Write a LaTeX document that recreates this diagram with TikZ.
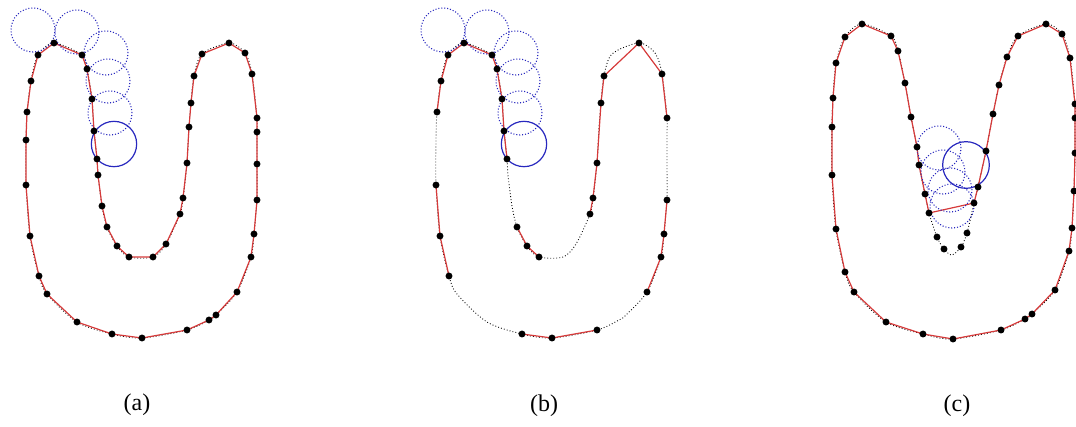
\documentclass[tikz,border=0pt]{standalone}
\usepackage{fontspec}
\setmainfont{Liberation Serif}
\definecolor{chordred}{RGB}{214,58,58}
\definecolor{probeblue}{RGB}{40,40,190}

% sample points of the U contour (pixel units, y down)
\def\ulist{38/55,54/43,82/55,87/69,92/99,94/131,97/159,98/175,102/206,107/227,
117/246,129/257,153/257,166/244,180/214,183/198,187/163,189/127,191/103,194/76,
202/54,229/43,245/53,252/74,257/118,257/132,257/164,257/200,254/234,251/257,
237/292,216/315,209/320,187/330,142/338,112/334,77/322,47/294,39/276,30/236,
26/185,26/140,27/112,31/81}
% sample points of the W contour
\def\wlist{845/37,862/24,891/36,898/51,905/83,911/117,917/147,919/165,925/194,929/213,
937/237,944/249,952/255,961/247,967/233,
974/203,978/187,986/151,993/114,999/85,1007/57,1018/36,1046/24,1062/34,1070/58,
1075/104,1075/118,1075/153,1074/191,1072/228,1069/251,1055/290,1032/314,1025/319,1001/330,
953/339,923/334,886/322,854/292,845/272,836/229,832/175,832/127,833/98,836/63}

\tikzset{
  contour/.style={black,line width=0.65pt,dash pattern=on 0.65pt off 1.6pt},
  chord/.style={chordred,line width=0.9pt,line join=round},
  probe/.style={probeblue,line width=0.8pt,dash pattern=on 0.8pt off 1.4pt},
  active/.style={probeblue,line width=0.9pt},
  caption/.style={font=\fontsize{18}{21}\selectfont}
}

\begin{document}
\begin{tikzpicture}[x=0.75pt,y=-0.75pt]
\useasboundingbox (0,0) rectangle (1076,426);

% (a)
\foreach \px/\py [count=\i] in \ulist {\coordinate (a\i) at (\px,\py);}
\draw[contour] plot[smooth cycle,samples at={1,...,44},variable=\k] (a\k);
\draw[chord] plot[samples at={1,...,44},variable=\k] (a\k) -- cycle;
\foreach \cx/\cy in {33/30,77/32,106/53,108/81,110/113}
  \draw[probe] (\cx,\cy) circle (16.5pt);
\draw[active] (114,144) circle (17pt);
\foreach \i in {1,...,44} \fill (a\i) circle (2.6pt);
\node[caption] (cap-a) at (137,405) {(a)};

% (b)
\begin{scope}[xshift=307.5pt]
\foreach \px/\py [count=\i] in \ulist {\coordinate (b\i) at (\px,\py);}
\draw[contour] plot[smooth cycle,samples at={1,...,44},variable=\k] (b\k);
\draw[chord] plot[samples at={43,44,1,2,3,4,5,6,7},variable=\k] (b\k);
\draw[chord] plot[samples at={10,11,12},variable=\k] (b\k);
\draw[chord] plot[samples at={15,16,17,19,20,22,24,25},variable=\k] (b\k);
\draw[chord] plot[samples at={28,29,30,31},variable=\k] (b\k);
\draw[chord] plot[samples at={34,35,36},variable=\k] (b\k);
\draw[chord] plot[samples at={39,40,41},variable=\k] (b\k);
\foreach \cx/\cy in {33/30,77/32,106/53,108/81,110/113}
  \draw[probe] (\cx,\cy) circle (16.5pt);
\draw[active] (114,144) circle (17pt);
\foreach \i in {43,44,1,2,3,4,5,6,7,10,11,12,15,16,17,19,20,22,24,25,28,29,30,31,34,35,36,39,40,41}
  \fill (b\i) circle (2.6pt);
\end{scope}
\node[caption] (cap-b) at (544,406) {(b)};

% (c)
\foreach \px/\py [count=\i] in \wlist {\coordinate (c\i) at (\px,\py);}
\draw[contour] plot[smooth cycle,samples at={1,...,45},variable=\k] (c\k);
\draw[chord] plot[samples at={1,...,10,16,17,...,45},variable=\k] (c\k) -- cycle;
\foreach \cx/\cy in {939/148,943/172,950/190,952/206}
  \draw[probe] (\cx,\cy) circle (16.5pt);
\draw[active] (966,165) circle (17.5pt);
\foreach \i in {1,...,12,14,15,...,45} \fill (c\i) circle (2.6pt);
\node[caption] (cap-c) at (957,406) {(c)};
\end{tikzpicture}
\end{document}
